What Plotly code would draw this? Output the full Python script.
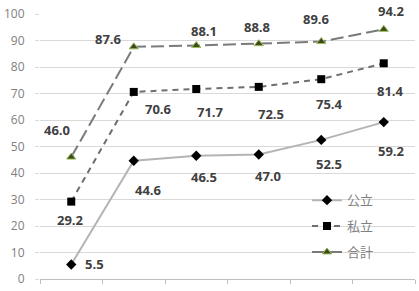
import plotly.graph_objects as go

# ---- data ----
categories = ["c1", "c2", "c3", "c4", "c5", "c6"]
series_names = ["公立", "私立", "合計"]
public_vals = [5.5, 44.6, 46.5, 47.0, 52.5, 59.2]
private_vals = [29.2, 70.6, 71.7, 72.5, 75.4, 81.4]
total_vals = [46.0, 87.6, 88.1, 88.8, 89.6, 94.2]
y_ticks = [0, 10, 20, 30, 40, 50, 60, 70, 80, 90, 100]

# ---- label offsets (pixels, relative to each point) ----
public_off = [(23, 0), (15, -29), (8, -21), (9, -22), (8, -24), (8, -29)]
private_off = [(-1, -18), (25, -17), (14, -23), (12, -27), (8, -25), (7, -28)]
total_off = [(-14, 27), (-25, 8), (8, 15), (-2, 17), (-5, 23), (8, 18)]

fig = go.Figure()

fig.add_trace(go.Scatter(
    x=categories, y=public_vals, name=series_names[0], legendgroup="a",
    mode="lines+markers",
    line=dict(color="#b4b4b4", width=2),
    marker=dict(symbol="diamond", size=8, color="#000000"),
))
fig.add_trace(go.Scatter(
    x=categories, y=private_vals, name=series_names[1], legendgroup="b",
    mode="lines+markers",
    line=dict(color="#6e6e6e", width=2, dash="6px,5px"),
    marker=dict(symbol="square", size=8, color="#000000"),
))
fig.add_trace(go.Scatter(
    x=categories, y=total_vals, name=series_names[2], legendgroup="c",
    mode="lines+markers",
    line=dict(color="#7a7a7a", width=2, dash="13px,5px"),
    marker=dict(symbol="triangle-up", size=8, color="#3d4a1c",
                line=dict(color="#9bbb59", width=1)),
))

label_font = dict(family="Open Sans, Liberation Sans, sans-serif", size=13, color="#404040")
for vals, offs in ((public_vals, public_off), (private_vals, private_off), (total_vals, total_off)):
    for c, v, (dx, dy) in zip(categories, vals, offs):
        fig.add_annotation(
            x=c, y=v, text="<b>%.1f</b>" % v, showarrow=False,
            xshift=dx, yshift=dy, font=label_font,
        )

fig.update_layout(
    width=419, height=291,
    margin=dict(l=36, r=4, t=14, b=9),
    paper_bgcolor="white", plot_bgcolor="white",
    showlegend=True,
    legend=dict(
        x=0.712, y=0.354, xanchor="left", yanchor="top",
        bgcolor="rgba(0,0,0,0)", tracegroupgap=6,
        font=dict(family="Noto Sans CJK JP, sans-serif", size=13, color="#7f7f7f"),
    ),
)
fig.update_xaxes(
    type="category", range=[-0.5, 5.5],
    showgrid=False, showticklabels=False,
    showline=True, linecolor="#bfbfbf", linewidth=1,
    ticks="outside", tickson="boundaries", ticklen=4, tickcolor="#bfbfbf",
)
fig.update_yaxes(
    range=[0, 100], tickvals=y_ticks,
    showgrid=True, gridcolor="#d9d9d9", gridwidth=1,
    zeroline=False, showline=False,
    ticks="outside", ticklen=4, tickcolor="#d9d9d9",
    ticklabelstandoff=8,
    tickfont=dict(family="Open Sans, Liberation Sans, sans-serif", size=12, color="#808080"),
)

fig.write_html("out.html")
